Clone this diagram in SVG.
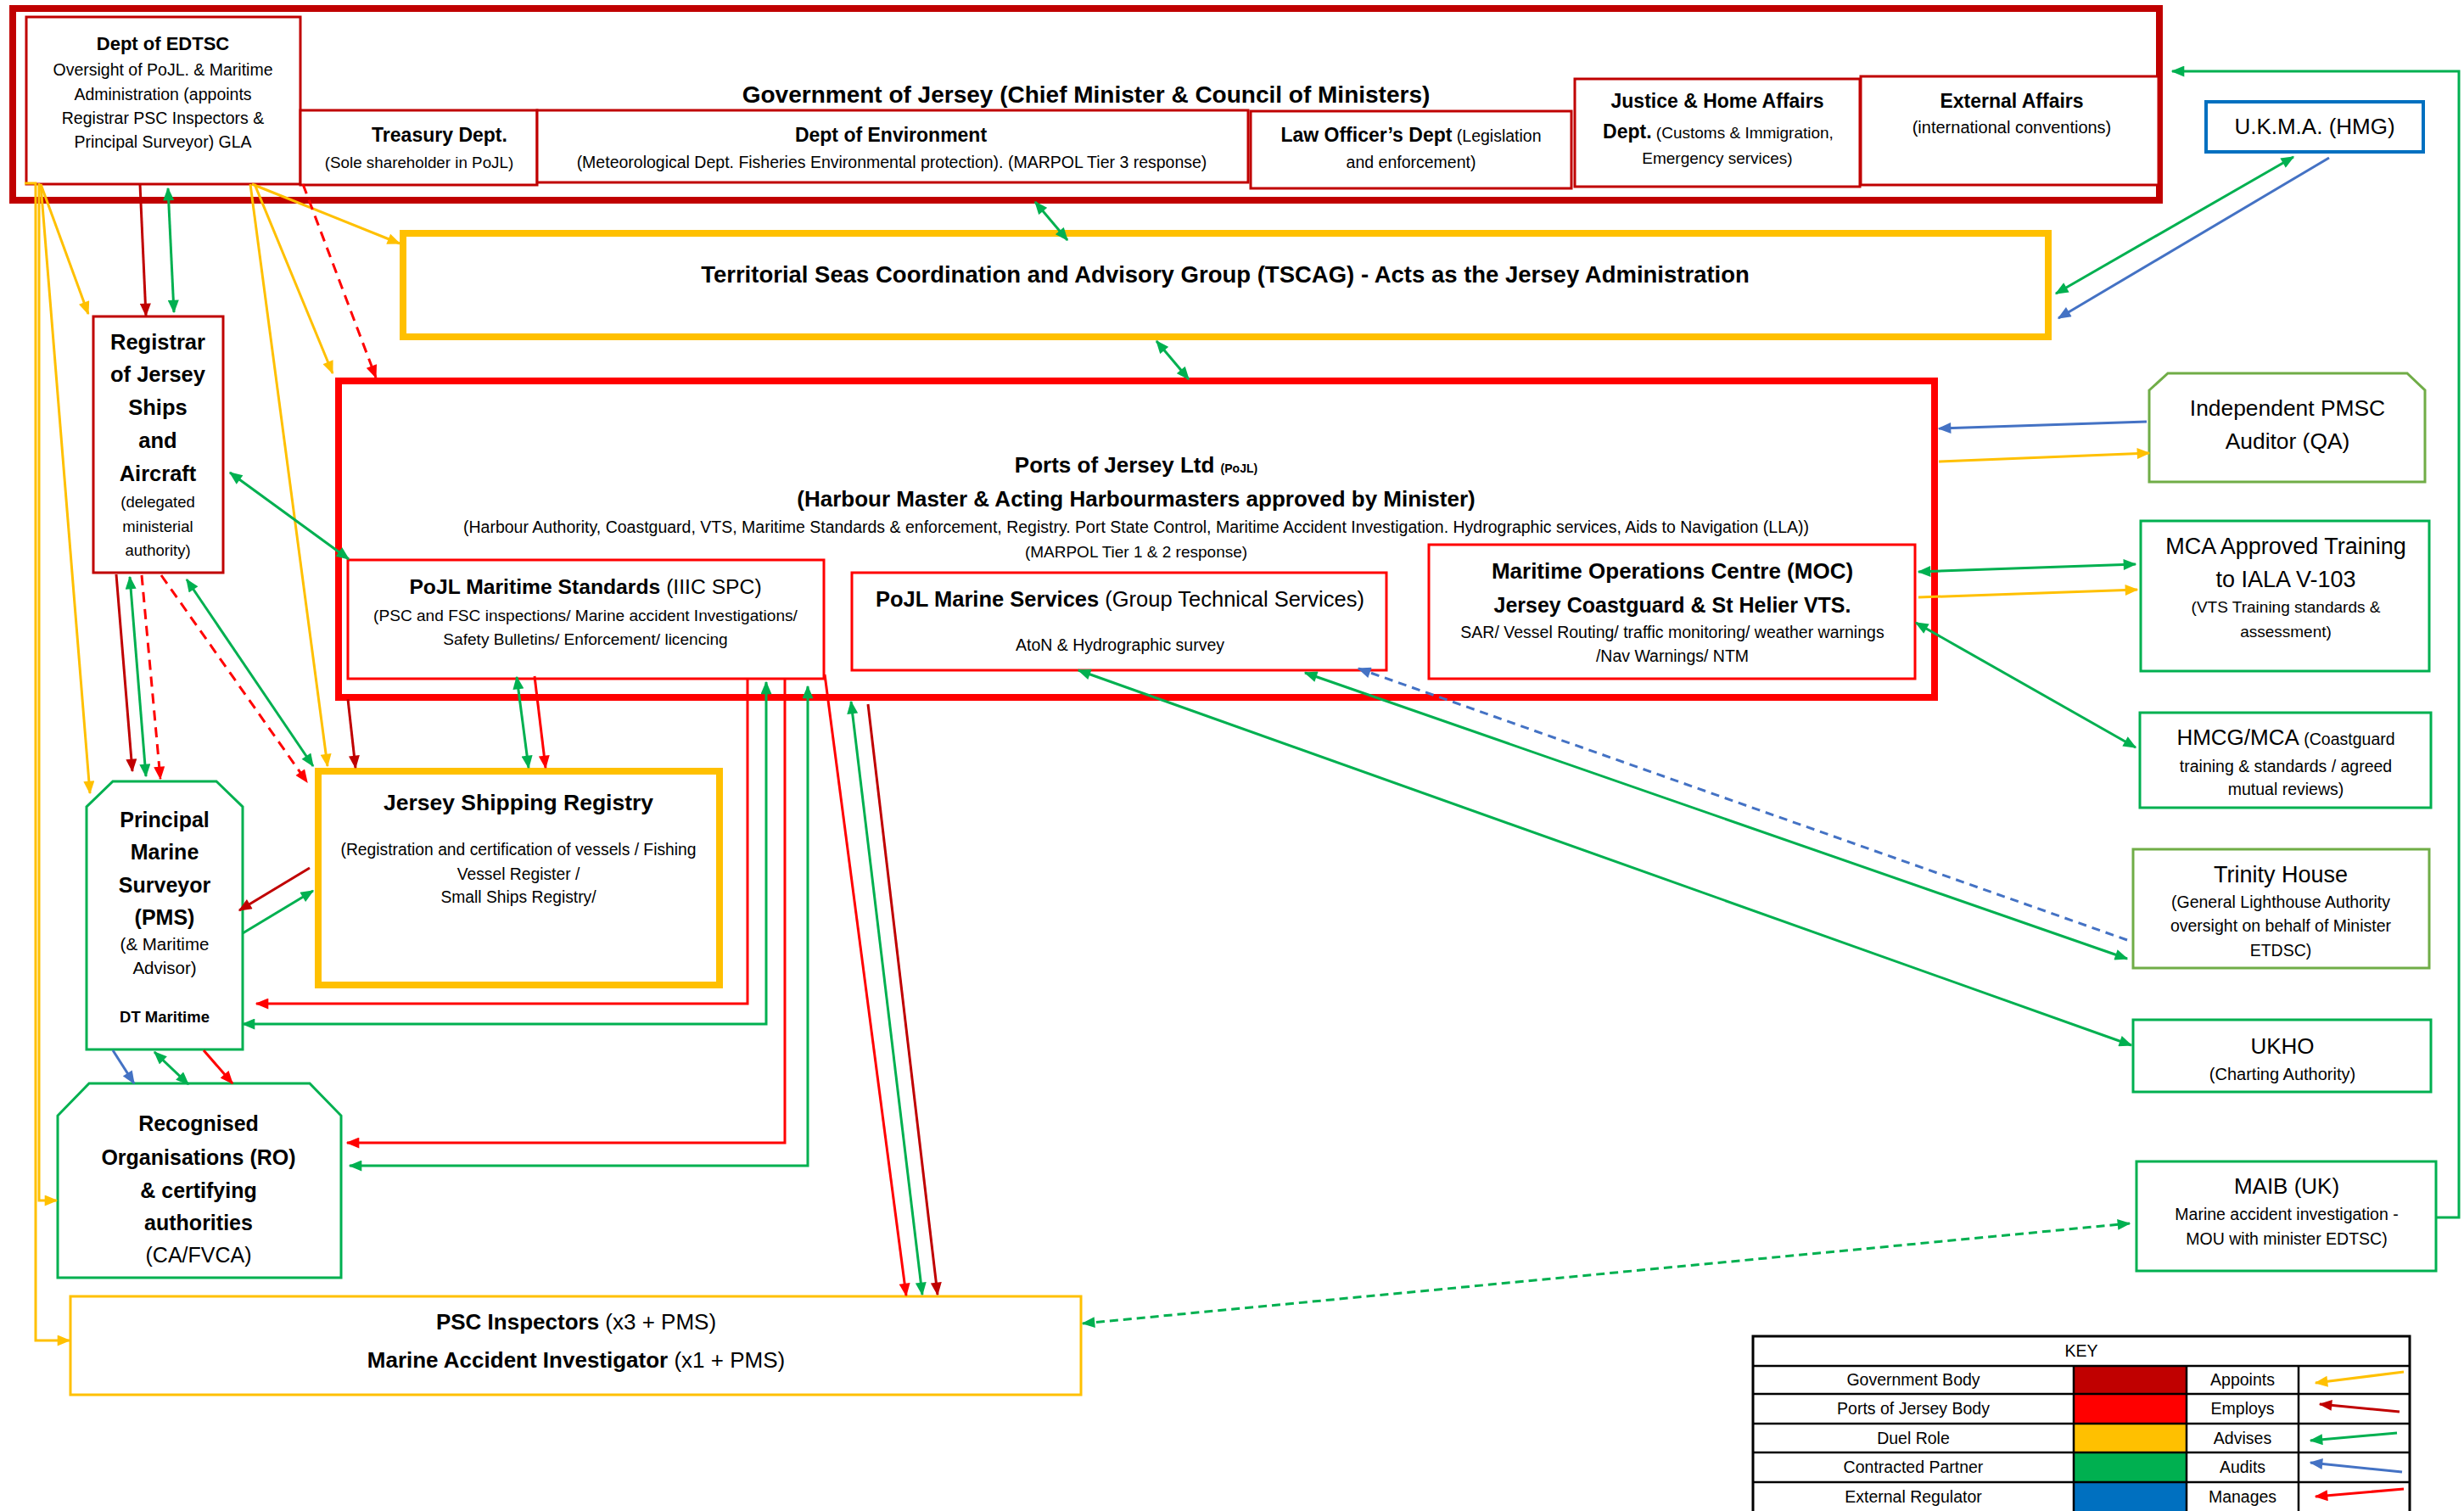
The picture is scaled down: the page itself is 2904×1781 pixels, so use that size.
<svg xmlns="http://www.w3.org/2000/svg" width="2904" height="1781" viewBox="0 0 2904 1781">
<style>
text{font-family:"Liberation Sans",Arial,sans-serif;fill:#000}
.m{text-anchor:middle}
.b{font-weight:bold}
.f14{font-size:14px}.f17{font-size:19.5px}.f18{font-size:19.5px}.f19{font-size:19.5px}.f22{font-size:22px}.f23{font-size:23px}.f24{font-size:25px}.f25{font-size:26px}.f26{font-size:26px}.f27{font-size:27px}.f28{font-size:28px}
.n{fill:#fff}
.gov{stroke:#C00000}
.pj{stroke:#FF0000}
.yl{stroke:#FFC000}
.gr{stroke:#00B050}
.lg{stroke:#70AD47}
.bu{stroke:#0070C0}
.c{fill:none;stroke-width:3}
.y{stroke:#FFC000}.d{stroke:#C00000}.g{stroke:#00B050}.bl{stroke:#4472C4}.r{stroke:#FF0000}
.dash{stroke-dasharray:12 8}
</style>
<defs>
<marker id="ay" viewBox="0 0 12 10" refX="11" refY="5" markerWidth="17" markerHeight="13" markerUnits="userSpaceOnUse" orient="auto-start-reverse"><path d="M0,0 L12,5 L0,10 Z" fill="#FFC000"/></marker>
<marker id="ad" viewBox="0 0 12 10" refX="11" refY="5" markerWidth="17" markerHeight="13" markerUnits="userSpaceOnUse" orient="auto-start-reverse"><path d="M0,0 L12,5 L0,10 Z" fill="#C00000"/></marker>
<marker id="ag" viewBox="0 0 12 10" refX="11" refY="5" markerWidth="17" markerHeight="13" markerUnits="userSpaceOnUse" orient="auto-start-reverse"><path d="M0,0 L12,5 L0,10 Z" fill="#00B050"/></marker>
<marker id="ab" viewBox="0 0 12 10" refX="11" refY="5" markerWidth="17" markerHeight="13" markerUnits="userSpaceOnUse" orient="auto-start-reverse"><path d="M0,0 L12,5 L0,10 Z" fill="#4472C4"/></marker>
<marker id="ar" viewBox="0 0 12 10" refX="11" refY="5" markerWidth="17" markerHeight="13" markerUnits="userSpaceOnUse" orient="auto-start-reverse"><path d="M0,0 L12,5 L0,10 Z" fill="#FF0000"/></marker>
</defs>
<rect x="0" y="0" width="2904" height="1781" fill="#fff"/>

<g id="government">
<rect class="n gov" x="15" y="10" width="2530" height="226" stroke-width="8"/>
<text class="b f28 m" x="1280" y="121">Government of Jersey (Chief Minister &amp; Council of Ministers)</text>
</g>
<g id="edtsc">
<rect class="n gov" x="31" y="20" width="323" height="197" stroke-width="3"/>
<text class="b f22 m" x="192" y="59">Dept of EDTSC</text>
<text class="f18 m" x="192" y="89">Oversight of PoJL. &amp; Maritime</text>
<text class="f18 m" x="192" y="118">Administration (appoints</text>
<text class="f18 m" x="192" y="146">Registrar PSC Inspectors &amp;</text>
<text class="f18 m" x="192" y="174">Principal Surveyor) GLA</text>
</g>
<g id="treasury">
<rect class="n gov" x="354" y="130" width="279" height="88" stroke-width="3"/>
<text class="b f23 m" x="518" y="167">Treasury Dept.</text>
<text class="m" style="font-size:18.8px" x="494" y="198">(Sole shareholder in PoJL)</text>
</g>
<g id="environment">
<rect class="n gov" x="633" y="130" width="838" height="85" stroke-width="3"/>
<text class="b f23 m" x="1050" y="167">Dept of Environment</text>
<text class="f18 m" x="1051" y="198">(Meteorological Dept. Fisheries Environmental protection). (MARPOL Tier 3 response)</text>
</g>
<g id="law">
<rect class="n gov" x="1474" y="131" width="378" height="91" stroke-width="3"/>
<text class="f18 m" x="1663" y="167"><tspan class="b f23">Law Officer’s Dept</tspan> (Legislation</text>
<text class="f18 m" x="1663" y="198">and enforcement)</text>
</g>
<g id="justice">
<rect class="n gov" x="1856" y="93" width="336" height="127" stroke-width="3"/>
<text class="b f23 m" x="2024" y="127">Justice &amp; Home Affairs</text>
<text class="m" style="font-size:19px" x="2025" y="163"><tspan class="b f23">Dept.</tspan>  (Customs &amp; Immigration,</text>
<text class="m" style="font-size:19px" x="2024" y="193">Emergency services)</text>
</g>
<g id="external">
<rect class="n gov" x="2193" y="90" width="351" height="128" stroke-width="3"/>
<text class="b f23 m" x="2371" y="127">External Affairs</text>
<text class="m" style="font-size:20px" x="2371" y="157">(international conventions)</text>
</g>
<g id="ukma">
<rect class="n bu" x="2600" y="120" width="256" height="59" stroke-width="4"/>
<text class="f26 m" x="2728" y="158">U.K.M.A. (HMG)</text>
</g>
<g id="tscag">
<rect class="n yl" x="475" y="275" width="1939" height="122" stroke-width="8"/>
<text class="b m" style="font-size:27.5px" x="1444" y="333">Territorial Seas Coordination and Advisory Group (TSCAG) - Acts as the Jersey Administration</text>
</g>
<g id="pojl">
<rect class="n pj" x="399" y="449" width="1881" height="373" stroke-width="8"/>
<text class="b f26 m" x="1339" y="557">Ports of Jersey Ltd <tspan class="f14">(PoJL)</tspan></text>
<text class="b f26 m" x="1339" y="597">(Harbour Master &amp; Acting Harbourmasters approved by Minister)</text>
<text class="f17 m" x="1339" y="628">(Harbour Authority, Coastguard, VTS, Maritime Standards &amp; enforcement, Registry. Port State Control, Maritime Accident Investigation. Hydrographic services, Aids to Navigation (LLA))</text>
<text class="m" style="font-size:19px" x="1339" y="657">(MARPOL Tier 1 &amp; 2 response)</text>
</g>
<g id="maritime-standards">
<rect class="n pj" x="410" y="660" width="561" height="140" stroke-width="3"/>
<text class="m" style="font-size:24.7px" x="690" y="700"><tspan class="b">PoJL Maritime Standards</tspan> (IIIC SPC)</text>
<text class="m" style="font-size:19.1px" x="690" y="732">(PSC and FSC inspections/ Marine accident Investigations/</text>
<text class="m" style="font-size:19.1px" x="690" y="760">Safety Bulletins/ Enforcement/ licencing</text>
</g>
<g id="marine-services">
<rect class="n pj" x="1004" y="675" width="630" height="115" stroke-width="3"/>
<text class="m" style="font-size:25.5px" x="1320" y="715"><tspan class="b">PoJL Marine Services</tspan> (Group Technical Services)</text>
<text class="f18 m" x="1320" y="767">AtoN &amp; Hydrographic survey</text>
</g>
<g id="moc">
<rect class="n pj" x="1684" y="642" width="573" height="158" stroke-width="3"/>
<text class="b f26 m" x="1971" y="682">Maritime Operations Centre (MOC)</text>
<text class="b f24 m" x="1971" y="722">Jersey Coastguard &amp; St Helier VTS.</text>
<text class="f18 m" x="1971" y="752">SAR/ Vessel Routing/ traffic monitoring/ weather warnings</text>
<text class="f18 m" x="1971" y="780">/Nav Warnings/ NTM</text>
</g>
<g id="registrar">
<rect class="n gov" x="110" y="373" width="153" height="302" stroke-width="3"/>
<text class="b m" style="font-size:25.5px" x="186" y="412">Registrar</text>
<text class="b m" style="font-size:25.5px" x="186" y="450">of Jersey</text>
<text class="b m" style="font-size:25.5px" x="186" y="489">Ships</text>
<text class="b m" style="font-size:25.5px" x="186" y="528">and</text>
<text class="b m" style="font-size:25.5px" x="186" y="567">Aircraft</text>
<text class="m" style="font-size:18.5px" x="186" y="598">(delegated</text>
<text class="m" style="font-size:18.5px" x="186" y="627">ministerial</text>
<text class="m" style="font-size:18.5px" x="186" y="655">authority)</text>
</g>
<g id="registry">
<rect class="n yl" x="375" y="909" width="473" height="252" stroke-width="8"/>
<text class="b m" style="font-size:26.5px" x="611" y="955">Jersey Shipping Registry</text>
<text class="m" style="font-size:19.3px" x="611" y="1008">(Registration and certification of vessels / Fishing</text>
<text class="m" style="font-size:19.3px" x="611" y="1037">Vessel Register /</text>
<text class="m" style="font-size:19.3px" x="611" y="1064">Small Ships Registry/</text>
</g>
<g id="pms">
<polygon class="n gr" points="133,921 255,921 286,951 286,1237 102,1237 102,951" stroke-width="3"/>
<text class="b f24 m" x="194" y="975">Principal</text>
<text class="b f24 m" x="194" y="1013">Marine</text>
<text class="b f24 m" x="194" y="1052">Surveyor</text>
<text class="b f24 m" x="194" y="1090">(PMS)</text>
<text class="m" style="font-size:20.5px" x="194" y="1120">(&amp; Maritime</text>
<text class="m" style="font-size:20.5px" x="194" y="1148">Advisor)</text>
<text class="b m" style="font-size:18.5px" x="194" y="1205">DT Maritime</text>
</g>
<g id="ro">
<polygon class="n gr" points="105,1277 365,1277 402,1315 402,1506 68,1506 68,1315" stroke-width="3"/>
<text class="b f24 m" x="234" y="1333">Recognised</text>
<text class="b f24 m" x="234" y="1373">Organisations (RO)</text>
<text class="b f24 m" x="234" y="1412">&amp; certifying</text>
<text class="b f24 m" x="234" y="1450">authorities</text>
<text class="f24 m" x="234" y="1488">(CA/FVCA)</text>
</g>
<g id="psc">
<rect class="n yl" x="83" y="1528" width="1191" height="116" stroke-width="3"/>
<text class="f26 m" x="679" y="1567"><tspan class="b">PSC Inspectors</tspan> (x3 + PMS)</text>
<text class="f26 m" x="679" y="1612"><tspan class="b">Marine Accident Investigator</tspan> (x1 + PMS)</text>
</g>
<g id="auditor">
<path class="n lg" d="M2533,460 L2555,440 L2837,440 L2858,460 L2858,568 L2533,568 Z" stroke-width="3"/>
<text class="m" style="font-size:26.4px" x="2696" y="490">Independent PMSC</text>
<text class="m" style="font-size:26.4px" x="2696" y="529">Auditor (QA)</text>
</g>
<g id="mca-training">
<rect class="n gr" x="2523" y="614" width="340" height="177" stroke-width="3"/>
<text class="f27 m" x="2694" y="653">MCA Approved Training</text>
<text class="f27 m" x="2694" y="692">to IALA V-103</text>
<text class="m" style="font-size:19px" x="2694" y="722">(VTS Training standards &amp;</text>
<text class="m" style="font-size:19px" x="2694" y="751">assessment)</text>
</g>
<g id="hmcg">
<rect class="n gr" x="2522" y="840" width="343" height="112" stroke-width="3"/>
<text class="f18 m" x="2694" y="878"><tspan class="f26">HMCG/MCA</tspan> (Coastguard</text>
<text class="f18 m" x="2694" y="910">training &amp; standards / agreed</text>
<text class="f18 m" x="2694" y="937">mutual reviews)</text>
</g>
<g id="trinity">
<rect class="n lg" x="2514" y="1001" width="349" height="140" stroke-width="3"/>
<text class="f27 m" x="2688" y="1040">Trinity House</text>
<text class="f18 m" x="2688" y="1070">(General Lighthouse Authority</text>
<text class="f18 m" x="2688" y="1098">oversight on behalf of Minister</text>
<text class="f18 m" x="2688" y="1127">ETDSC)</text>
</g>
<g id="ukho">
<rect class="n gr" x="2514" y="1202" width="351" height="85" stroke-width="3"/>
<text class="f25 m" x="2690" y="1242">UKHO</text>
<text class="m" style="font-size:20px" x="2690" y="1273">(Charting Authority)</text>
</g>
<g id="maib">
<rect class="n gr" x="2518" y="1369" width="353" height="129" stroke-width="3"/>
<text class="f26 m" x="2695" y="1407">MAIB (UK)</text>
<text class="f18 m" x="2695" y="1438">Marine accident investigation -</text>
<text class="f18 m" x="2695" y="1467">MOU with minister EDTSC)</text>
</g>

<g id="connectors">
<polyline class="c y" stroke-width="2.5" points="29,216 42,216 42,1580 82,1580" marker-end="url(#ay)"/>
<polyline class="c y" stroke-width="2.5" points="46,216 46,1415 67,1415" marker-end="url(#ay)"/>
<line class="c y" stroke-width="2.5" x1="48" y1="217" x2="104" y2="370" marker-end="url(#ay)"/>
<line class="c y" stroke-width="2.5" x1="48" y1="217" x2="106" y2="935" marker-end="url(#ay)"/>
<line class="c y" x1="297" y1="217" x2="471" y2="287" marker-end="url(#ay)"/>
<line class="c y" stroke-width="2.5" x1="295" y1="217" x2="386" y2="903" marker-end="url(#ay)"/>
<line class="c y" stroke-width="2.5" x1="300" y1="217" x2="392" y2="440" marker-end="url(#ay)"/>
<line class="c y" x1="2285" y1="544" x2="2533" y2="534" marker-end="url(#ay)"/>
<line class="c y" x1="2261" y1="704" x2="2519" y2="695" marker-end="url(#ay)"/>

<line class="c d" stroke-width="2.5" x1="165" y1="217" x2="172" y2="372" marker-end="url(#ad)"/>
<line class="c d" stroke-width="2.5" x1="137" y1="677" x2="156" y2="909" marker-end="url(#ad)"/>
<line class="c d" x1="410" y1="824" x2="419" y2="905" marker-end="url(#ad)"/>
<line class="c d" x1="365" y1="1023" x2="282" y2="1073" marker-end="url(#ad)"/>
<line class="c d" x1="1023" y1="830" x2="1105" y2="1526" marker-end="url(#ad)"/>

<line class="c g" x1="198" y1="222" x2="205" y2="368" marker-start="url(#ag)" marker-end="url(#ag)"/>
<line class="c g" x1="1220" y1="238" x2="1258" y2="283" marker-start="url(#ag)" marker-end="url(#ag)"/>
<line class="c g" x1="1363" y1="402" x2="1401" y2="447" marker-start="url(#ag)" marker-end="url(#ag)"/>
<line class="c g" x1="2703" y1="185" x2="2423" y2="346" marker-start="url(#ag)" marker-end="url(#ag)"/>
<line class="c g" x1="2261" y1="674" x2="2517" y2="665" marker-start="url(#ag)" marker-end="url(#ag)"/>
<line class="c g" x1="2258" y1="734" x2="2517" y2="881" marker-start="url(#ag)" marker-end="url(#ag)"/>
<line class="c g" x1="1538" y1="793" x2="2507" y2="1130" marker-start="url(#ag)" marker-end="url(#ag)"/>
<line class="c g" x1="1271" y1="790" x2="2512" y2="1232" marker-start="url(#ag)" marker-end="url(#ag)"/>
<line class="c g" x1="271" y1="557" x2="411" y2="659" marker-start="url(#ag)" marker-end="url(#ag)"/>
<line class="c g" stroke-width="2.5" x1="153" y1="680" x2="172" y2="915" marker-start="url(#ag)" marker-end="url(#ag)"/>
<line class="c g" x1="220" y1="683" x2="369" y2="903" marker-start="url(#ag)" marker-end="url(#ag)"/>
<line class="c g" x1="609" y1="798" x2="623" y2="905" marker-start="url(#ag)" marker-end="url(#ag)"/>
<polyline class="c g" points="286,1207 903,1207 903,804" marker-start="url(#ag)" marker-end="url(#ag)"/>
<polyline class="c g" points="412,1374 952,1374 952,809" marker-start="url(#ag)" marker-end="url(#ag)"/>
<line class="c g" x1="1003" y1="827" x2="1087" y2="1526" marker-start="url(#ag)" marker-end="url(#ag)"/>
<line class="c g" x1="182" y1="1240" x2="222" y2="1278" marker-start="url(#ag)" marker-end="url(#ag)"/>
<line class="c g" x1="286" y1="1100" x2="369" y2="1050" marker-end="url(#ag)"/>
<line class="c g" stroke-width="5" stroke-dasharray="10 6" x1="1276" y1="1560" x2="2510" y2="1442" marker-start="url(#ag)" marker-end="url(#ag)"/>
<polyline class="c g" points="2871,1435 2898,1435 2898,84 2560,84" marker-end="url(#ag)"/>

<line class="c bl" x1="2745" y1="186" x2="2426" y2="375" marker-end="url(#ab)"/>
<line class="c bl" x1="2530" y1="497" x2="2285" y2="505" marker-end="url(#ab)"/>
<line class="c bl" stroke-dasharray="10 7" x1="2507" y1="1108" x2="1601" y2="788" marker-end="url(#ab)"/>
<line class="c bl" x1="133" y1="1238" x2="158" y2="1277" marker-end="url(#ab)"/>

<line class="c r dash" x1="357" y1="217" x2="443" y2="445" marker-end="url(#ar)"/>
<line class="c r dash" x1="167" y1="678" x2="189" y2="918" marker-end="url(#ar)"/>
<line class="c r dash" x1="190" y1="678" x2="362" y2="922" marker-end="url(#ar)"/>
<line class="c r" x1="630" y1="797" x2="643" y2="905" marker-end="url(#ar)"/>
<polyline class="c r" points="881,800 881,1183 302,1183" marker-end="url(#ar)"/>
<polyline class="c r" points="925,800 925,1347 409,1347" marker-end="url(#ar)"/>
<line class="c r" x1="972" y1="795" x2="1068" y2="1527" marker-end="url(#ar)"/>
<line class="c r" x1="240" y1="1238" x2="274" y2="1277" marker-end="url(#ar)"/>
</g>

<g id="key">
<rect x="2066" y="1575" width="774" height="210" fill="#fff" stroke="#000" stroke-width="3"/>
<rect x="2444" y="1610" width="133" height="33" fill="#C00000"/>
<rect x="2444" y="1643" width="133" height="35" fill="#FF0000"/>
<rect x="2444" y="1678" width="133" height="34" fill="#FFC000"/>
<rect x="2444" y="1712" width="133" height="35" fill="#00B050"/>
<rect x="2444" y="1747" width="133" height="38" fill="#0070C0"/>
<g stroke="#000" stroke-width="2.5">
<line x1="2066" y1="1610" x2="2840" y2="1610"/>
<line x1="2066" y1="1643" x2="2840" y2="1643"/>
<line x1="2066" y1="1678" x2="2840" y2="1678"/>
<line x1="2066" y1="1712" x2="2840" y2="1712"/>
<line x1="2066" y1="1747" x2="2840" y2="1747"/>
<line x1="2444" y1="1610" x2="2444" y2="1785"/>
<line x1="2577" y1="1610" x2="2577" y2="1785"/>
<line x1="2709" y1="1610" x2="2709" y2="1785"/>
</g>
<text class="f18 m" x="2453" y="1599">KEY</text>
<text class="f19 m" x="2255" y="1633">Government Body</text>
<text class="f19 m" x="2255" y="1667">Ports of Jersey Body</text>
<text class="f19 m" x="2255" y="1702">Duel Role</text>
<text class="f19 m" x="2255" y="1736">Contracted Partner</text>
<text class="f19 m" x="2255" y="1771">External Regulator</text>
<text class="f19 m" x="2643" y="1633">Appoints</text>
<text class="f19 m" x="2643" y="1667">Employs</text>
<text class="f19 m" x="2643" y="1702">Advises</text>
<text class="f19 m" x="2643" y="1736">Audits</text>
<text class="f19 m" x="2643" y="1771">Manages</text>
<line class="c y" x1="2833" y1="1617" x2="2729" y2="1630" marker-end="url(#ay)"/>
<line class="c d" x1="2828" y1="1664" x2="2734" y2="1655" marker-end="url(#ad)"/>
<line class="c g" x1="2825" y1="1689" x2="2723" y2="1698" marker-end="url(#ag)"/>
<line class="c bl" x1="2831" y1="1735" x2="2723" y2="1724" marker-end="url(#ab)"/>
<line class="c r" x1="2833" y1="1755" x2="2729" y2="1764" marker-end="url(#ar)"/>
</g>
</svg>
